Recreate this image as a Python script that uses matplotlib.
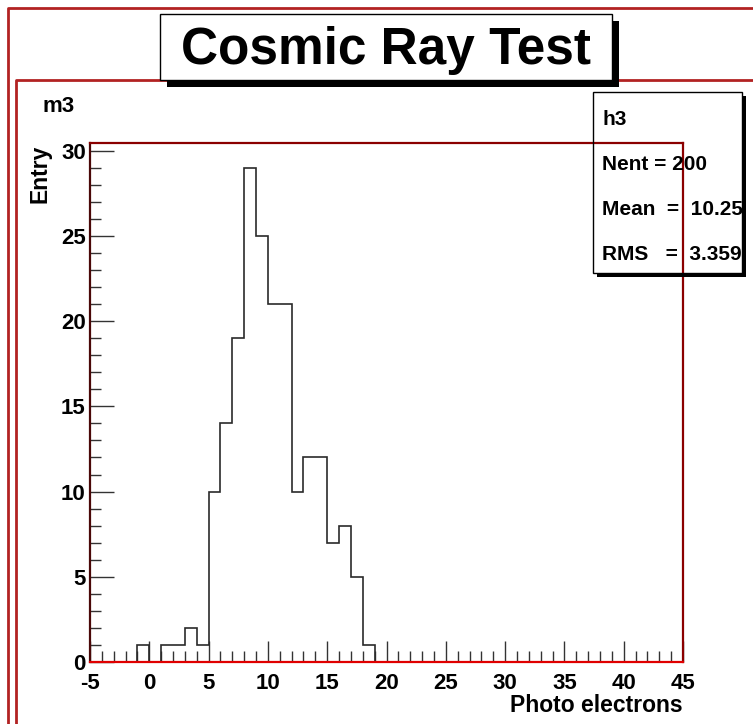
import numpy as np
import matplotlib
matplotlib.use("Agg")
import matplotlib.pyplot as plt
from matplotlib.patches import Rectangle
from matplotlib.lines import Line2D

plt.rcParams["font.family"] = ["Liberation Sans", "DejaVu Sans"]
plt.rcParams["font.weight"] = "bold"
plt.rcParams["axes.unicode_minus"] = False

# =====================================
# DATA
# =====================================

bin_edges = np.arange(-5, 46, 1)
counts = [0, 0, 0, 0, 1, 0, 1, 1, 2, 1,
          10, 14, 19, 29, 25, 21, 21, 10, 12, 12,
          7, 8, 5, 1, 0, 0, 0, 0, 0, 0,
          0, 0, 0, 0, 0, 0, 0, 0, 0, 0,
          0, 0, 0, 0, 0, 0, 0, 0, 0, 0]

title = "Cosmic Ray Test"
hist_name = "m3"
stats_name = "h3"
stats_lines = ["Nent = 200", "Mean  =  10.25", "RMS   =  3.359"]
x_label = "Photo electrons"
y_label = "Entry"

# =====================================
# CANVAS
# =====================================

W, H = 753, 724
fig = plt.figure(figsize=(W / 100, H / 100), dpi=100)


def fx(x):
    return x / W


def fy(y):
    return 1 - y / H


def frame_line(xs, ys, color, lw, z=1):
    fig.add_artist(Line2D([fx(v) for v in xs], [fy(v) for v in ys],
                          color=color, lw=lw, zorder=z,
                          transform=fig.transFigure))


def box(x0, y0, x1, y1, **kw):
    fig.add_artist(Rectangle((fx(x0), fy(y1)), fx(x1) - fx(x0), fy(y0) - fy(y1),
                             transform=fig.transFigure, **kw))


# canvas and pad borders
frame_line([8, 8, W], [H, 8, 8], "#b22222", 2.0)
frame_line([16, 16, W], [H, 80, 80], "#b22222", 2.0)

# =====================================
# HISTOGRAM
# =====================================

ax = fig.add_axes([fx(90), fy(662), fx(683) - fx(90), fy(143) - fy(662)])
ax.stairs(counts, bin_edges, baseline=0, color="#2a2a2a", lw=1.2, zorder=2)

ax.set_xlim(-5, 45)
ax.set_ylim(0, 30.45)
ax.set_xticks(np.arange(-5, 46, 5))
ax.set_xticks(np.arange(-5, 46, 1), minor=True)
ax.set_yticks(np.arange(0, 31, 5))
ax.set_yticks(np.arange(0, 31, 1), minor=True)

ax.tick_params(axis="both", which="both", direction="in", color="#333333",
               width=1.0, top=False, right=False)
ax.tick_params(axis="x", which="major", length=15, pad=8, labelsize=16)
ax.tick_params(axis="x", which="minor", length=8)
ax.tick_params(axis="y", which="major", length=17, pad=3, labelsize=16)
ax.tick_params(axis="y", which="minor", length=8)

for side, col in [("top", "#8b0000"), ("right", "#8b0000"),
                  ("left", "#4a0808"), ("bottom", "#e00000")]:
    ax.spines[side].set_color(col)
    ax.spines[side].set_linewidth(1.6)
    ax.spines[side].set_zorder(3)

for lab in ax.get_xticklabels() + ax.get_yticklabels():
    lab.set_fontweight("bold")

fig.text(fx(683), fy(706), x_label, ha="right", va="center",
         fontsize=16.5, fontweight="bold")
fig.text(fx(40), fy(145), y_label, ha="center", va="top", rotation=90,
         fontsize=16.5, fontweight="bold")
fig.text(fx(42), fy(112), hist_name, ha="left", va="baseline",
         fontsize=16, fontweight="bold")

# =====================================
# TITLE BOX
# =====================================

box(167, 21, 619, 87, facecolor="black", edgecolor="none", zorder=4)
box(160, 14, 612, 80, facecolor="white", edgecolor="black", lw=1.0, zorder=5)
fig.text(fx(386), fy(64), title, ha="center", va="baseline",
         fontsize=37, fontweight="bold", zorder=6)

# =====================================
# STATS BOX
# =====================================

box(742, 96, 746, 277, facecolor="black", edgecolor="none", zorder=4)
box(597, 273, 746, 277, facecolor="black", edgecolor="none", zorder=4)
box(593, 92, 742, 273, facecolor="none", edgecolor="black", lw=1.0, zorder=5)
fig.text(fx(602), fy(125), stats_name, ha="left", va="baseline",
         fontsize=15, fontweight="bold", zorder=6)
for i, line in enumerate(stats_lines):
    fig.text(fx(602), fy(170 + 45 * i), line, ha="left", va="baseline",
             fontsize=15, fontweight="bold", zorder=6)

fig.savefig("out.png", dpi=100)
